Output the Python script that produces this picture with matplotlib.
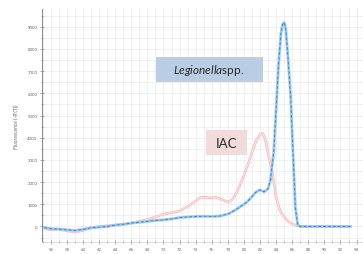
import matplotlib
matplotlib.use("Agg")
import matplotlib.pyplot as plt
from matplotlib.patches import Rectangle
from matplotlib.ticker import MultipleLocator

plt.rcParams['font.family'] = ['Lato', 'DejaVu Sans']
plt.rcParams['mathtext.fontset'] = 'custom'
plt.rcParams['mathtext.it'] = 'Lato:italic'
plt.rcParams['mathtext.rm'] = 'Lato'

# Legionella spp. melt curve
leg_T = [55.2, 56, 57, 58, 59, 60, 61, 62, 63, 64, 65, 66, 67, 68, 69, 70, 71, 72, 73, 74,
         75, 76, 77, 78, 78.5, 79, 79.5, 80, 80.5, 81, 81.5, 82, 82.5, 83, 83.3, 83.7, 84,
         84.3, 84.6, 84.8, 85, 85.2, 85.5, 85.8, 86.1, 86.4, 86.7, 87, 88, 89, 90, 91, 92, 93.3]
leg_v = [-50, -100, -120, -150, -180, -130, -60, -30, 0, 60, 100, 150, 190, 230, 270, 300,
         340, 400, 430, 450, 460, 450, 470, 560, 650, 760, 880, 1000, 1150, 1350, 1550, 1650,
         1560, 1700, 2100, 3350, 5300, 7300, 8700, 9100, 9200, 8900, 7500, 5900, 3300, 800,
         50, 0, 0, 0, 0, 0, 0, 0]

# IAC melt curve
iac_T = [55.2, 56, 57, 58, 59, 60, 61, 62, 63, 64, 65, 66, 67, 68, 69, 70, 71, 72, 73, 74,
         74.5, 75, 76, 76.5, 77, 78, 78.5, 79, 79.5, 80, 80.5, 81, 81.5, 82, 82.3, 82.6, 83,
         83.5, 84, 84.5, 85, 85.5, 86, 86.5, 87, 88, 90, 92, 93.3]
iac_v = [-80, -150, -120, -200, -250, -180, -50, 0, 30, 60, 100, 150, 230, 320, 430, 550,
         620, 700, 900, 1150, 1300, 1320, 1280, 1320, 1250, 1100, 1200, 1450, 1850, 2300,
         2800, 3350, 3850, 4150, 4200, 4000, 3300, 2500, 1300, 700, 420, 230, 110, 50, 10,
         0, 0, 0, 0]

x_ticks = list(range(56, 95, 2))
y_ticks = list(range(0, 9001, 1000))

fig = plt.figure(figsize=(3.63, 2.55), dpi=100)
ax = fig.add_axes([42/363, 1 - 243/255, 1 - 42/363, (243 - 10)/255])
ax.set_xlim(54.9, 94.8)
ax.set_ylim(-700, 9800)

ax.set_xticks(x_ticks)
ax.set_yticks(y_ticks)
ax.xaxis.set_minor_locator(MultipleLocator(1))
ax.yaxis.set_minor_locator(MultipleLocator(500))
ax.grid(True, which='both', color='#eeeeee', linewidth=0.6)
ax.set_axisbelow(True)
ax.tick_params(which='both', direction='inout', colors='#888888', labelsize=3.2,
               length=2.5, width=0.5, pad=2)
ax.tick_params(which='minor', length=1.5)
for s in ['top', 'right']:
    ax.spines[s].set_visible(False)
ax.spines['left'].set_color('#777777')
ax.spines['left'].set_linewidth(0.6)
ax.spines['bottom'].set_color('#cccccc')
ax.spines['bottom'].set_linewidth(0.5)
for lab in ax.get_xticklabels() + ax.get_yticklabels():
    lab.set_color('#666666')

ax.set_ylabel("Fluorescence (-R'(T))", fontsize=3.5, color='#666666', labelpad=6)

# IAC: double pink lines
ax.plot(iac_T, iac_v, color='#f7c0c3', linewidth=1.9, solid_capstyle='round')
ax.plot(iac_T, iac_v, color='#fdeced', linewidth=0.5)
# Legionella: light blue with darker dashed core
ax.plot(leg_T, leg_v, color='#9ccbf2', linewidth=2.0, solid_capstyle='round')
ax.plot(leg_T, leg_v, color='#3b86d3', linewidth=0.7, linestyle=(0, (3, 2)))

# Label boxes
fig.patches.append(Rectangle((156/363, 1 - 83/255), 107/363, 25/255,
                             transform=fig.transFigure, facecolor='#b9cde4',
                             edgecolor='none', zorder=5))
fig.text(209/363, 1 - 71/255, r"$\mathit{Legionella}$spp.", fontsize=8.5,
         color='#2a2a2a', ha='center', va='center', zorder=6)
fig.patches.append(Rectangle((206/363, 1 - 156/255), 41/363, 25/255,
                             transform=fig.transFigure, facecolor='#f2dcdb',
                             edgecolor='none', zorder=5))
fig.text(226.5/363, 1 - 143.5/255, "IAC", fontsize=9.5, color='#2a2a2a',
         ha='center', va='center', zorder=6)

fig.savefig("out.png", dpi=100)
